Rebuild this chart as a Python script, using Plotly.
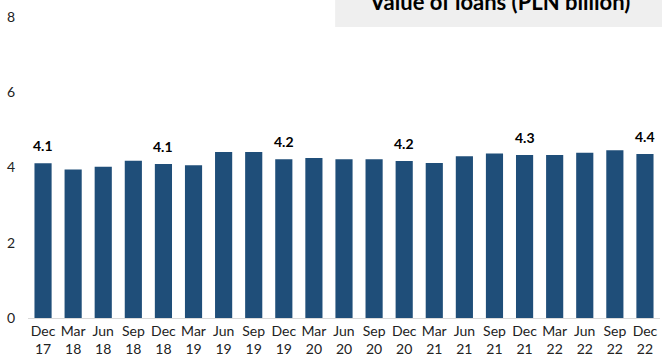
import plotly.graph_objects as go

# quarters (two-line tick labels)
months = ['Dec', 'Mar', 'Jun', 'Sep', 'Dec', 'Mar', 'Jun', 'Sep', 'Dec', 'Mar', 'Jun',
          'Sep', 'Dec', 'Mar', 'Jun', 'Sep', 'Dec', 'Mar', 'Jun', 'Sep', 'Dec']
years = ['17', '18', '18', '18', '18', '19', '19', '19', '19', '20', '20',
         '20', '20', '21', '21', '21', '21', '22', '22', '22', '22']
categories = [f'{m}<br>{y}' for m, y in zip(months, years)]

# value of loans, PLN billion
loans = [4.11, 3.95, 4.02, 4.18, 4.09, 4.06, 4.41, 4.41, 4.22, 4.25, 4.22,
         4.22, 4.17, 4.12, 4.30, 4.37, 4.33, 4.33, 4.39, 4.46, 4.36]

# year-end labels
label_idx = [0, 4, 8, 12, 16, 20]
labels = ['4.1', '4.1', '4.2', '4.2', '4.3', '4.4']

title = 'Value of loans (PLN billion)'
font = 'Lato'

fig = go.Figure()
fig.add_trace(go.Bar(x=categories, y=loans, marker_color='#1f4e79',
                     marker_line_width=0, hoverinfo='y'))

for i, t in zip(label_idx, labels):
    fig.add_annotation(x=categories[i], y=loans[i], text=f'<b>{t}</b>',
                       showarrow=False, yanchor='bottom', yshift=7,
                       font=dict(size=14, color='#000000', family=font))

# grey title box at the top right, partly cut off
fig.add_shape(type='rect', xref='paper', yref='paper', x0=0.486, x1=1.01,
              y0=0.967, y1=1.1, fillcolor='#efefef', line_width=0, layer='below')
fig.add_annotation(xref='paper', yref='paper', x=0.746, y=1.0,
                   xanchor='center', yanchor='bottom',
                   text=f'<b>{title}</b>', showarrow=False,
                   font=dict(size=22, color='#000000', family=font))

fig.update_layout(
    width=662, height=360,
    margin=dict(l=28, r=2, t=17, b=42),
    paper_bgcolor='white', plot_bgcolor='white',
    bargap=0.43, showlegend=False,
    font=dict(family=font, size=14, color='#222222'),
)
fig.update_xaxes(showline=True, linecolor='#d9d9d9', linewidth=1, ticks='',
                 tickfont=dict(size=14), showgrid=False, automargin=False)
fig.update_yaxes(range=[0, 8], tickvals=[0, 2, 4, 6, 8], showgrid=False,
                 zeroline=False, ticklabelstandoff=12, tickfont=dict(size=14),
                 automargin=False)

# the page's default body margin would push the chart 8px down and right
fig.write_html('out.html', config={'displayModeBar': False},
               post_script="document.body.style.margin='0px';")
